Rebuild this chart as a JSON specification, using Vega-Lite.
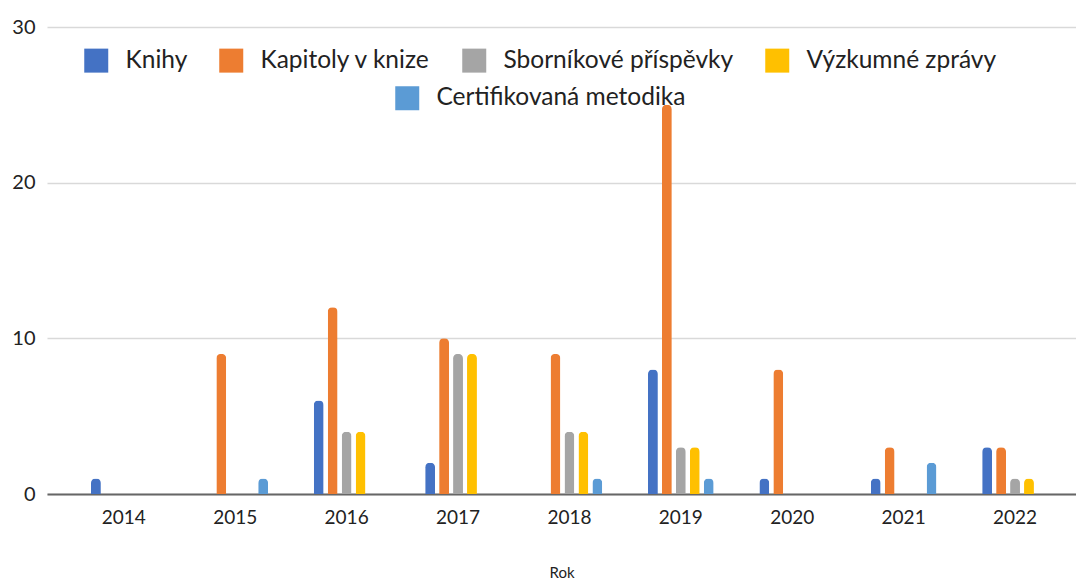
{
  "$schema": "https://vega.github.io/schema/vega-lite/v6.json",
  "autosize": {"type": "none"},
  "padding": {"left": 47, "top": 27, "right": 0, "bottom": 86},
  "width": 1029,
  "height": 467,
  "background": "white",
  "config": {
    "view": {"stroke": null},
    "font": "Lato",
    "legend": {"padding": 0}
  },
  "data": {
    "values": [
      {"rok": "2014", "typ": "Knihy", "pocet": 1},
      {"rok": "2015", "typ": "Kapitoly v knize", "pocet": 9},
      {"rok": "2015", "typ": "Certifikovaná metodika", "pocet": 1},
      {"rok": "2016", "typ": "Knihy", "pocet": 6},
      {"rok": "2016", "typ": "Kapitoly v knize", "pocet": 12},
      {"rok": "2016", "typ": "Sborníkové příspěvky", "pocet": 4},
      {"rok": "2016", "typ": "Výzkumné zprávy", "pocet": 4},
      {"rok": "2017", "typ": "Knihy", "pocet": 2},
      {"rok": "2017", "typ": "Kapitoly v knize", "pocet": 10},
      {"rok": "2017", "typ": "Sborníkové příspěvky", "pocet": 9},
      {"rok": "2017", "typ": "Výzkumné zprávy", "pocet": 9},
      {"rok": "2018", "typ": "Kapitoly v knize", "pocet": 9},
      {"rok": "2018", "typ": "Sborníkové příspěvky", "pocet": 4},
      {"rok": "2018", "typ": "Výzkumné zprávy", "pocet": 4},
      {"rok": "2018", "typ": "Certifikovaná metodika", "pocet": 1},
      {"rok": "2019", "typ": "Knihy", "pocet": 8},
      {"rok": "2019", "typ": "Kapitoly v knize", "pocet": 25},
      {"rok": "2019", "typ": "Sborníkové příspěvky", "pocet": 3},
      {"rok": "2019", "typ": "Výzkumné zprávy", "pocet": 3},
      {"rok": "2019", "typ": "Certifikovaná metodika", "pocet": 1},
      {"rok": "2020", "typ": "Knihy", "pocet": 1},
      {"rok": "2020", "typ": "Kapitoly v knize", "pocet": 8},
      {"rok": "2021", "typ": "Knihy", "pocet": 1},
      {"rok": "2021", "typ": "Kapitoly v knize", "pocet": 3},
      {"rok": "2021", "typ": "Certifikovaná metodika", "pocet": 2},
      {"rok": "2022", "typ": "Knihy", "pocet": 3},
      {"rok": "2022", "typ": "Kapitoly v knize", "pocet": 3},
      {"rok": "2022", "typ": "Sborníkové příspěvky", "pocet": 1},
      {"rok": "2022", "typ": "Výzkumné zprávy", "pocet": 1}
    ]
  },
  "encoding": {
    "x": {
      "field": "rok", "type": "nominal", "title": "Rok",
      "scale": {"paddingInner": 0.41, "paddingOuter": 0.3235, "align": 0.61},
      "axis": {
        "labelAngle": 0, "labelFontSize": 19, "labelColor": "#222", "labelPadding": 14,
        "ticks": false, "domainColor": "#666", "domainWidth": 2,
        "titleFontSize": 15, "titleFontWeight": "normal", "titleColor": "#222", "titlePadding": 38
      }
    },
    "y": {
      "field": "pocet", "type": "quantitative", "title": null,
      "scale": {"domain": [0, 30]},
      "axis": {
        "values": [0, 10, 20, 30], "labelFontSize": 20, "labelColor": "#222", "labelPadding": 12,
        "ticks": false, "domain": false, "gridColor": "#d9d9d9", "gridWidth": 1.5
      }
    },
    "xOffset": {
      "field": "typ", "type": "nominal",
      "scale": {
        "domain": ["Knihy", "Kapitoly v knize", "Sborníkové příspěvky", "Výzkumné zprávy", "Certifikovaná metodika"],
        "paddingInner": 0.29, "paddingOuter": 0
      }
    }
  },
  "layer": [
    {
      "transform": [{"filter": "datum.typ !== 'Certifikovaná metodika'"}],
      "mark": {"type": "bar", "cornerRadiusTopLeft": 4.5, "cornerRadiusTopRight": 4.5},
      "encoding": {
        "color": {
          "field": "typ", "type": "nominal",
          "scale": {
            "domain": ["Knihy", "Kapitoly v knize", "Sborníkové příspěvky", "Výzkumné zprávy"],
            "range": ["#4472C4", "#ED7D31", "#A5A5A5", "#FFC000"]
          },
          "legend": {
            "title": null, "orient": "none", "legendX": 37, "legendY": 21,
            "direction": "horizontal", "columns": 4, "columnPadding": 31,
            "symbolType": "square", "symbolSize": 576, "symbolStrokeWidth": 0,
            "labelFontSize": 24.5, "labelColor": "#222", "labelOffset": 17, "labelLimit": 400
          }
        }
      }
    },
    {
      "transform": [{"filter": "datum.typ === 'Certifikovaná metodika'"}],
      "mark": {"type": "bar", "cornerRadiusTopLeft": 4.5, "cornerRadiusTopRight": 4.5},
      "encoding": {
        "color": {
          "field": "typ", "type": "nominal",
          "scale": {"domain": ["Certifikovaná metodika"], "range": ["#5B9BD5"]},
          "legend": {
            "title": null, "orient": "none", "legendX": 348, "legendY": 59,
            "direction": "horizontal",
            "symbolType": "square", "symbolSize": 576, "symbolStrokeWidth": 0,
            "labelFontSize": 24.5, "labelColor": "#222", "labelOffset": 17, "labelLimit": 400
          }
        }
      }
    }
  ],
  "resolve": {"scale": {"color": "independent"}}
}
